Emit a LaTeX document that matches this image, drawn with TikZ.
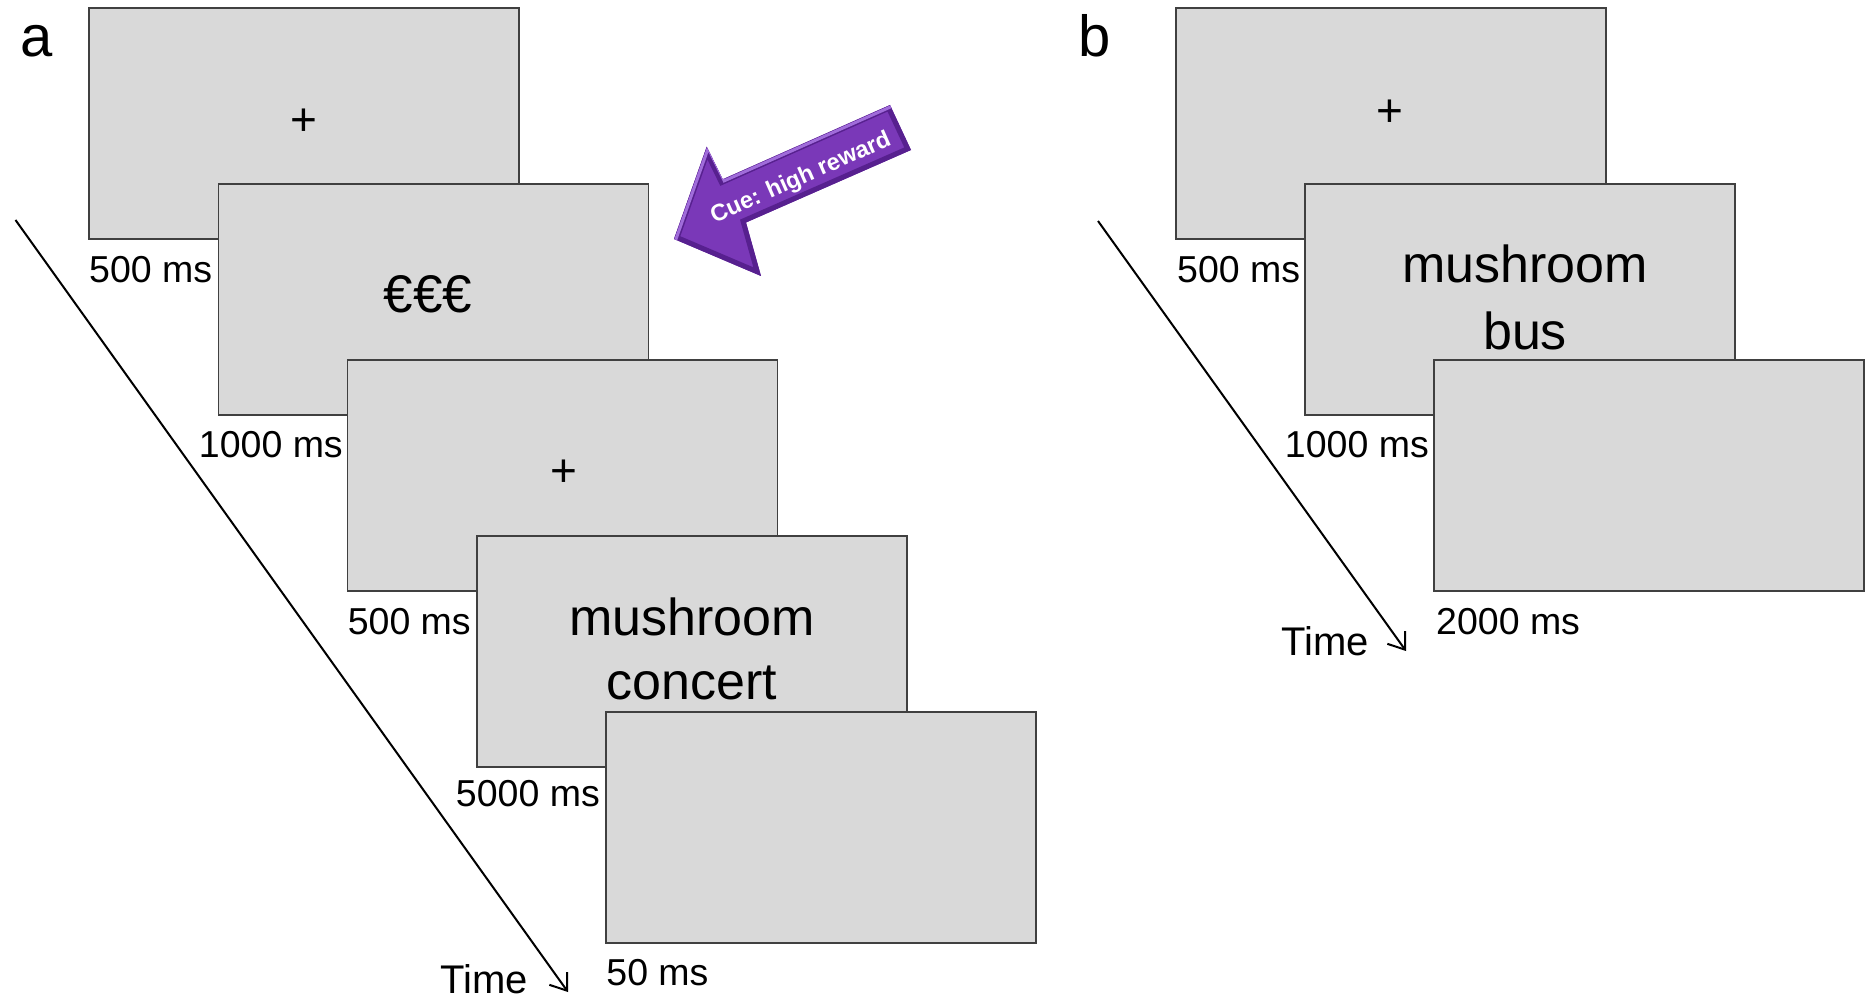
\documentclass[tikz,border=0pt]{standalone}
\usepackage{fontspec}
\setmainfont{Liberation Sans}
\usetikzlibrary{arrows.meta}
\definecolor{boxfill}{HTML}{D9D9D9}
\definecolor{boxline}{HTML}{404040}
\definecolor{cuepurple}{HTML}{7A38B8}
\definecolor{cuedark}{HTML}{4E1A85}
\definecolor{cuelight}{HTML}{A06CDA}
\tikzset{
  screen/.style={draw=boxline, fill=boxfill, line width=1.5pt, anchor=north west,
    minimum width=430pt, minimum height=231pt, inner sep=0pt, outer sep=0pt},
  lbl/.style={font=\fontsize{37.5}{44}\selectfont, inner sep=0pt},
  panel/.style={font=\fontsize{58}{66}\selectfont, inner sep=0pt, anchor=base west},
  timelbl/.style={font=\fontsize{40}{48}\selectfont, inner sep=0pt, anchor=base west},
  word/.style={font=\fontsize{52}{62}\selectfont, inner sep=0pt, anchor=base},
  fix/.style={font=\fontsize{46}{52}\selectfont, inner sep=0pt},
  timeline/.style={line width=2pt, -{Straight Barb[length=15pt,width=22pt,line width=2pt]}},
}
\begin{document}
\begin{tikzpicture}[x=1pt,y=-1pt]
\useasboundingbox (0,0) rectangle (1865,1008);

% ---------- panel a ----------
\node[panel] (pa) at (20,57) {a};
\coordinate (ta0) at (15.5,220);
\coordinate (ta1) at (568,992);
\draw[timeline] (ta0) -- (ta1);

\node[screen] (a1) at (89,8) {};
\node[fix] (a1t) at (304,122) {+};
\node[screen] (a2) at (218.3,184) {};
\node[font=\fontsize{53}{60}\selectfont, inner sep=0pt] (a2t) at (428,294) {€€€};
\node[screen] (a3) at (347.6,360) {};
\node[fix] (a3t) at (564,473) {+};
\node[screen] (a4) at (476.9,536) {};
\node[word] (a4t1) at (692,635) {mushroom};
\node[word] (a4t2) at (692,699) {concert};
\node[screen] (a5) at (606.2,712) {};

\node[lbl, anchor=base west] (la1) at (89,283) {500 ms};
\node[lbl, anchor=base east] (la2) at (343,457) {1000 ms};
\node[lbl, anchor=base west] (la3) at (347.6,634) {500 ms};
\node[lbl, anchor=base east] (la4) at (600,806) {5000 ms};
\node[lbl, anchor=base west] (la5) at (606.2,985) {50 ms};
\node[timelbl] (tla) at (440,993) {Time};

% cue arrow
\def\cuepath{(674,239) -- (706.7,146.7) -- (722.7,179.3) -- (890,105) -- (911,150) -- (746,222.5) -- (761,276) -- cycle}
\fill[cuepurple] \cuepath;
\begin{scope}
  \clip \cuepath;
  \draw[cuedark!80!cuepurple, line width=10pt, line join=miter] \cuepath;
  \draw[cuelight, line width=3pt, line join=miter, shift={(1.5,1.5)}] (674,239) -- (706.7,146.7) -- (722.7,179.3) -- (890,105);
\end{scope}
\node[rotate=23.8, text=white, font=\fontsize{23.5}{27}\selectfont\bfseries, inner sep=0pt] (cue) at (801,178.5) {Cue: high reward};

% ---------- panel b ----------
\node[panel] (pb) at (1078,57) {b};
\coordinate (tb0) at (1098,221);
\coordinate (tb1) at (1406,651);
\draw[timeline] (tb0) -- (tb1);

\node[screen] (b1) at (1176,8) {};
\node[fix] (b1t) at (1390,113) {+};
\node[screen] (b2) at (1305,184) {};
\node[word] (b2t1) at (1525,283) {mushroom};
\node[word] (b2t2) at (1525,349) {bus};
\node[screen] (b3) at (1434,360) {};

\node[lbl, anchor=base west] (lb1) at (1177,283) {500 ms};
\node[lbl, anchor=base east] (lb2) at (1429,457) {1000 ms};
\node[lbl, anchor=base west] (lb3) at (1436,634) {2000 ms};
\node[timelbl] (tlb) at (1281,655) {Time};
\end{tikzpicture}
\end{document}
